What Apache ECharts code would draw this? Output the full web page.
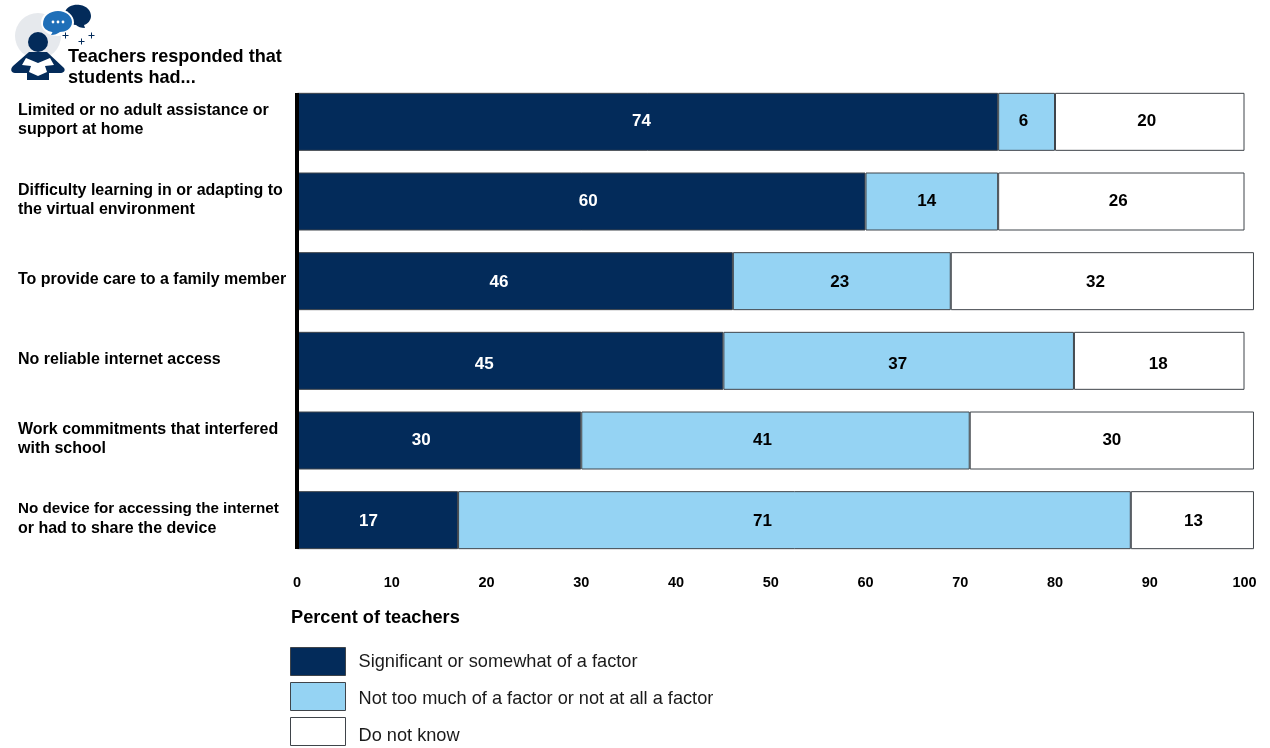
<!DOCTYPE html>
<html><head><meta charset="utf-8">
<style>html,body{margin:0;padding:0;background:#fff}#c{width:1270px;height:748px}</style>
<script src="https://cdn.jsdelivr.net/npm/echarts@6/dist/echarts.min.js"></script></head>
<body><div id="c"></div>
<script>
const categories = [
 "Limited or no adult assistance or\nsupport at home",
 "Difficulty learning in or adapting to\nthe virtual environment",
 "To provide care to a family member",
 "No reliable internet access",
 "Work commitments that interfered\nwith school",
 "No device for accessing the internet\nor had to share the device"];
const significant = [74,60,46,45,30,17];
const notTooMuch = [6,14,23,37,41,71];
const doNotKnow = [20,26,32,18,30,13];
const seriesNames = ["Significant or somewhat of a factor","Not too much of a factor or not at all a factor","Do not know"];
// the reference's value labels sit a little off the segment centres
const labelShiftSignificant = [-6,7,-16,-26,-18,-9];
const labelShiftNotTooMuch = [-3,-5,-2,-1,-13,-32];
const labelShiftDoNotKnow = [-3,-3,-7,-1,0,1];
const labelShiftRow = [-1,0,1,3,0,1];
const FONT = '"Liberation Sans", Arial, sans-serif';
const NAVY='#032b5a', SKY='#95d3f3', EDGE='#3f444a';
function bar(name,values,shift,color,textColor){
  return {type:'bar',name,stack:'t',clip:false,barWidth:58,
    data:values.map((v,i)=>({value:v,label:{offset:[shift[i],labelShiftRow[i]]}})),
    itemStyle:{color,borderColor:EDGE,borderWidth:1},
    label:{show:true,position:'inside',color:textColor,fontFamily:FONT,fontWeight:'bold',fontSize:17},
    emphasis:{disabled:true}};
}
const iconPaths = {
 iconNavyBubble:'M65 12 C67 6 74 4 80 5 C87 6 91 11 91 16 C91 20 88 24 84 25 L85 28 C81 28 78 27 76 25 C70 25 63 19 65 12 Z',
 iconBlueBubble:'M43 24 C43 16 50 11 58 11 C66 11 72 16 72 22 C72 29 65 32 60 32 C57 34 55 35 51 35 C52 33 53 32 52 32 C47 31 43 28 43 24 Z',
 iconStarA:'M62.5 35 h2.5 v-2.5 h1 v2.5 h2.5 v1 h-2.5 v2.5 h-1 v-2.5 h-2.5 Z',
 iconStarB:'M78.5 41 h2.5 v-2.5 h1 v2.5 h2.5 v1 h-2.5 v2.5 h-1 v-2.5 h-2.5 Z',
 iconStarC:'M88.5 35 h2.5 v-2.5 h1 v2.5 h2.5 v1 h-2.5 v2.5 h-1 v-2.5 h-2.5 Z',
 iconBody:'M29 52 L47 52 L64 68 C66 71 63 73 60 73 L49 73 L49 80 L27 80 L27 73 L15 73 C11 73 10 69 13 66 Z',
 iconBookL:'M26 58 L38 63 L38 76 L29 72 L31 66 L22 65 Z',
 iconBookR:'M50 58 L38 63 L38 76 L47 72 L45 66 L54 65 Z'
};
Object.keys(iconPaths).forEach(k=>echarts.graphic.registerShape(k,echarts.graphic.extendPath(iconPaths[k],{})));
const chart = echarts.init(document.getElementById('c'),null,{renderer:'canvas'});
const decor = [
 {type:'circle',shape:{cx:38,cy:36,r:23},style:{fill:'#e6e9ed'}},
 {type:'iconNavyBubble',style:{fill:'#032b5a'}},
 {type:'ellipse',shape:{cx:57.5,cy:22.5,rx:16.5,ry:13.5},style:{fill:'#fff'}},
 {type:'iconBlueBubble',style:{fill:'#1f6fb8'}},
 {type:'circle',shape:{cx:53,cy:22,r:1.4},style:{fill:'#fff'}},
 {type:'circle',shape:{cx:58,cy:22,r:1.4},style:{fill:'#fff'}},
 {type:'circle',shape:{cx:63,cy:22,r:1.4},style:{fill:'#fff'}},
 {type:'iconStarA',style:{fill:'#032b5a'}},
 {type:'iconStarB',style:{fill:'#032b5a'}},
 {type:'iconStarC',style:{fill:'#032b5a'}},
 {type:'circle',shape:{cx:38,cy:42,r:10},style:{fill:'#032b5a'}},
 {type:'iconBody',style:{fill:'#032b5a'}},
 {type:'iconBookL',style:{fill:'#fff'}},
 {type:'iconBookR',style:{fill:'#fff'}},
 {type:'rect',z:10,shape:{x:295,y:93,width:4,height:456},style:{fill:'#000'}}
];
const legendToken = (top)=>({fontFamily:FONT,fontSize:18.2,color:'#1a1a1a',padding:[top,0,0,8]});
chart.setOption({
 animation:false,backgroundColor:'#fff',
 textStyle:{fontFamily:FONT},
 title:[
  {text:'Teachers responded that\nstudents had...',left:68,top:46,padding:0,textStyle:{fontFamily:FONT,fontWeight:'bold',fontSize:18.1,lineHeight:21,color:'#000'}},
  {text:'Percent of teachers',left:291,top:609,padding:0,textStyle:{fontFamily:FONT,fontWeight:'bold',fontSize:18.2,color:'#000'}}
 ],
 grid:{left:297,top:82,width:947.5,height:478,containLabel:false},
 xAxis:{type:'value',position:'bottom',min:0,max:100,interval:10,
   axisLine:{show:false},axisTick:{show:false},splitLine:{show:false},
   axisLabel:{margin:15,color:'#000',fontFamily:FONT,fontWeight:'bold',fontSize:14.5,showMinLabel:true,showMaxLabel:true}},
 yAxis:{type:'category',inverse:true,data:categories,
   axisLine:{show:false},axisTick:{show:false},
   axisLabel:{align:'left',margin:279,color:'#000',fontFamily:FONT,fontWeight:'bold',fontSize:16,lineHeight:19,padding:[0,0,3,0],
     formatter:v=>{
       const lines=v.split('\n');
       return lines[0].startsWith('No device')?'{narrow|'+lines[0]+'}\n{plain|'+lines[1]+'}':v;
     },
     rich:{narrow:{fontFamily:FONT,fontWeight:'bold',fontSize:15.2,lineHeight:19,color:'#000'},
           plain:{fontFamily:FONT,fontWeight:'bold',fontSize:16,lineHeight:19,color:'#000'}}}},
 legend:{orient:'vertical',left:290,top:647,height:110,itemWidth:55,itemHeight:28,itemGap:6,padding:0,selectedMode:false,
   itemStyle:{borderWidth:1},
   formatter:n=>'{r'+seriesNames.indexOf(n)+'|'+n+'}',
   textStyle:{fontFamily:FONT,fontSize:18.2,color:'#1a1a1a',rich:{r0:legendToken(0),r1:legendToken(4),r2:legendToken(8)}},
   data:seriesNames.map(n=>({name:n,icon:'rect'}))},
 series:[bar(seriesNames[0],significant,labelShiftSignificant,NAVY,'#fff'),bar(seriesNames[1],notTooMuch,labelShiftNotTooMuch,SKY,'#000'),bar(seriesNames[2],doNotKnow,labelShiftDoNotKnow,'#fff','#000')],
 graphic:decor
});
</script></body></html>
